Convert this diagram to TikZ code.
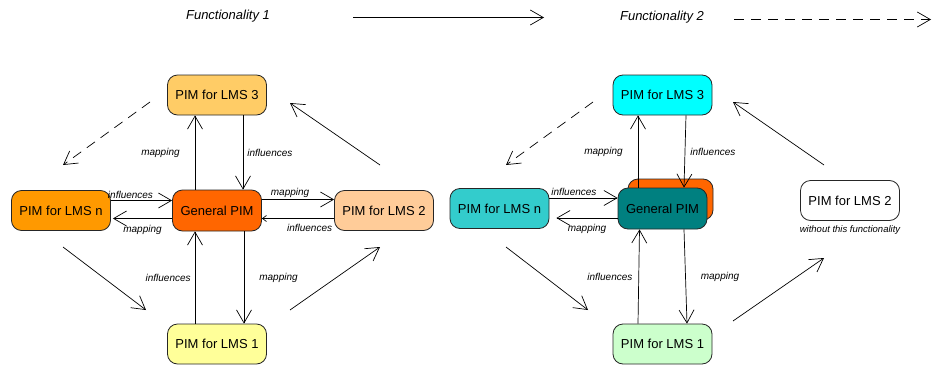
\documentclass[tikz,border=0pt]{standalone}
\usepackage{fontspec}
\setmainfont{Liberation Sans}
\usetikzlibrary{positioning,arrows.meta}

\definecolor{genorange}{HTML}{FF6600}
\definecolor{lmsthreeA}{HTML}{FFCC66}
\definecolor{lmsnA}{HTML}{FF9900}
\definecolor{lmstwoA}{HTML}{FFCC99}
\definecolor{lmsoneA}{HTML}{FFFF99}
\definecolor{lmsthreeB}{HTML}{00FFFF}
\definecolor{lmsnB}{HTML}{33CCCC}
\definecolor{genteal}{HTML}{008080}
\definecolor{lmsoneB}{HTML}{CCFFCC}

\tikzset{
    pim/.style={draw=black!85, line width=0.8pt, rounded corners=10pt,
        minimum width=99pt, minimum height=40pt, inner sep=2pt,
        font=\fontsize{13}{15}\selectfont},
    genbox/.style={pim, minimum width=89pt, minimum height=41pt},
    lbl/.style={font=\fontsize{10}{12}\selectfont\itshape, inner sep=1pt},
    note/.style={font=\fontsize{9.5}{11}\selectfont\itshape, inner sep=1pt},
    title/.style={font=\fontsize{13}{15}\selectfont\itshape, inner sep=1pt},
    arr/.style={-{Straight Barb[length=13pt,width=15pt]}, line width=0.7pt},
    smallarr/.style={-{Straight Barb[length=4pt,width=6pt]}, line width=0.7pt},
    dashedarr/.style={arr, dash pattern=on 10pt off 7pt}
}

\begin{document}
\begin{tikzpicture}[x=1pt, y=-1pt, on grid]

    \useasboundingbox (0,0) rectangle (932,367);

    % header
    \node[title] (fun1) at (228,16) {Functionality 1};
    \node[title] (fun2) at (662,17) {Functionality 2};
    \coordinate (fun1s) at (353,17.5);
    \coordinate (fun1e) at (544,17.5);
    \coordinate (fun2s) at (734,19.5);
    \coordinate (fun2e) at (931,19.5);
    \draw[arr] (fun1s) -- (fun1e);
    \draw[dashedarr] (fun2s) -- (fun2e);

    % functionality 1
    \node[genbox, fill=genorange] (gpA) at (217,210.5) {General PIM};
    \node[pim, fill=lmsthreeA] (l3A) [above=115.5pt of gpA] {PIM for LMS 3};
    \node[pim, fill=lmsoneA] (l1A) [below=133.5pt of gpA] {PIM for LMS 1};
    \node[pim, fill=lmsnA] (lnA) [left=156pt of gpA] {PIM for LMS n};
    \node[pim, fill=lmstwoA] (l2A) [right=167pt of gpA] {PIM for LMS 2};

    \draw[arr] ([xshift=-22pt]gpA.north) -- ([xshift=-22pt]l3A.south)
        node[lbl, midway, left=14pt] {mapping};
    \draw[arr] ([xshift=26pt]l3A.south) -- ([xshift=26pt]gpA.north)
        node[lbl, midway, right=3pt] {influences};
    \draw[arr] ([xshift=-22pt]l1A.north) -- ([xshift=-22pt]gpA.south)
        node[lbl, midway, left=3pt] {influences};
    \draw[arr] ([xshift=27pt]gpA.south) -- ([xshift=27pt]l1A.north)
        node[lbl, midway, right=14pt] {mapping};

    \draw[arr] ([yshift=10pt]lnA.east) -- ([yshift=10pt]gpA.west)
        node[lbl, pos=0.32, above=1pt] {influences};
    \draw[arr] ([yshift=-8pt]gpA.west) -- ([yshift=-8pt,xshift=2pt]lnA.east)
        node[lbl, midway, below=5pt] {mapping};
    \draw[arr] ([yshift=11pt]gpA.east) -- ([yshift=11pt]l2A.west)
        node[lbl, pos=0.39, above=1pt] {mapping};
    \draw[smallarr] ([yshift=-8pt]l2A.west) -- ([yshift=-8pt]gpA.east)
        node[lbl, pos=0.34, below=4pt] {influences};

    \coordinate (d3nA) at (150,102);
    \coordinate (e3nA) at (63,165);
    \coordinate (d23A) at (380,165);
    \coordinate (e23A) at (290,103);
    \coordinate (dn1A) at (63,247);
    \coordinate (en1A) at (146,310);
    \coordinate (d12A) at (290,310);
    \coordinate (e12A) at (380,247);
    \draw[dashedarr] (d3nA) -- (e3nA);
    \draw[arr] (d23A) -- (e23A);
    \draw[arr] (dn1A) -- (en1A);
    \draw[arr] (d12A) -- (e12A);

    % functionality 2
    \node[genbox, fill=genorange, minimum width=85pt] (bkB) at (670.5,199.5) {};
    \node[genbox, fill=genteal] (gpB) at (662.5,208.5) {General PIM};
    \node[pim, fill=lmsthreeB] (l3B) [above=113.5pt of gpB] {PIM for LMS 3};
    \node[pim, fill=lmsoneB] (l1B) [below=135.5pt of gpB] {PIM for LMS 1};
    \node[pim, fill=lmsnB] (lnB) [left=163pt of gpB] {PIM for LMS n};
    \node[pim, fill=white] (l2B) at (850,200.5) {PIM for LMS 2};
    \node[note] (noteB) [below=30pt of l2B] {without this functionality};

    \draw[arr] ([xshift=-24.5pt]gpB.north) -- ([xshift=-24.5pt]l3B.south)
        node[lbl, midway, left=14pt] {mapping};
    \draw[arr] ([xshift=23.5pt]l3B.south) -- ([xshift=21.5pt]gpB.north)
        node[lbl, midway, right=4pt] {influences};
    \draw[arr] ([xshift=-24.5pt]l1B.north) -- ([xshift=-23pt]gpB.south)
        node[lbl, midway, left=5pt] {influences};
    \draw[arr] ([xshift=21.5pt]gpB.south) -- ([xshift=24.5pt]l1B.north)
        node[lbl, midway, right=14pt] {mapping};

    \draw[arr] ([yshift=10.5pt]lnB.east) -- ([yshift=10.5pt]gpB.west)
        node[lbl, pos=0.36, above=1pt] {influences};
    \draw[arr] ([yshift=-9.5pt]gpB.west) -- ([yshift=-9.5pt,xshift=7pt]lnB.east)
        node[lbl, midway, below=5pt] {mapping};

    \coordinate (d3nB) at (593,102);
    \coordinate (e3nB) at (506,165);
    \coordinate (d23B) at (824,165);
    \coordinate (e23B) at (733,102);
    \coordinate (dn1B) at (506,247);
    \coordinate (en1B) at (588,310);
    \coordinate (d12B) at (733,321);
    \coordinate (e12B) at (824,258);
    \draw[dashedarr] (d3nB) -- (e3nB);
    \draw[arr] (d23B) -- (e23B);
    \draw[arr] (dn1B) -- (en1B);
    \draw[arr] (d12B) -- (e12B);

\end{tikzpicture}
\end{document}
